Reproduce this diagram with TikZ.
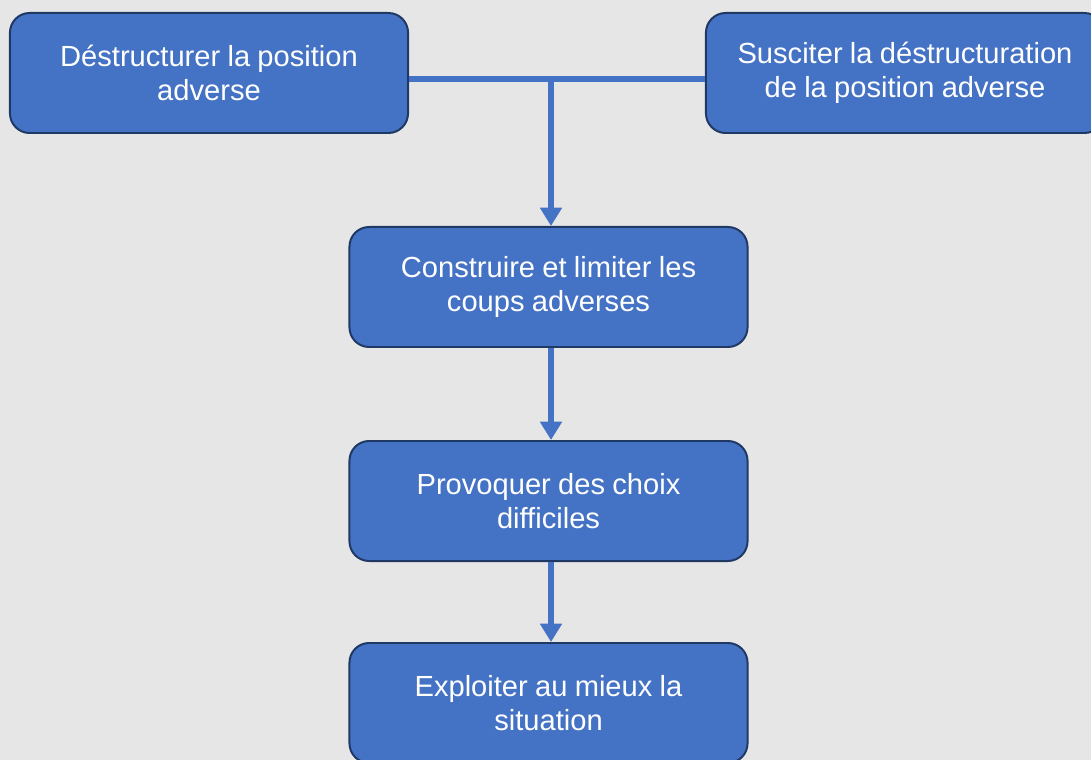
\documentclass[tikz,border=0pt]{standalone}
\usepackage{fontspec}
\setmainfont[WordSpace=0.9]{Liberation Sans}
\usetikzlibrary{arrows.meta}
\definecolor{fond}{HTML}{E7E6E6}
\definecolor{bleu}{HTML}{4472C4}
\definecolor{bord}{HTML}{1F3864}
\newcommand{\etiq}[1]{\raisebox{1.5pt}{\parbox{9.5cm}{\centering #1}}}
\begin{document}
\begin{tikzpicture}[x=0.025cm,y=-0.025cm,>={Triangle[width=15pt,length=13pt]},
	etape/.style={draw=bord,line width=1.4pt,fill=bleu,rounded corners=14pt,minimum width=9.95cm,minimum height=3cm,text=white,font=\fontsize{20.7}{24.2}\selectfont,inner sep=0pt},
	lien/.style={draw=bleu,line width=4pt}]
		\clip (0,0) rectangle (1091,760);
		\fill[fond] (0,0) rectangle (1091,760);
		\node[etape] (b1) at (209,73) {\etiq{Déstructurer la position\\adverse}};
		\node[etape] (b2) at (905,73) {\etiq{Susciter la déstructuration\\de la position adverse}};
		\node[etape] (b3) at (548.5,287) {\etiq{Construire et limiter les\\coups adverses}};
		\node[etape] (b4) at (548.5,501) {\etiq{Provoquer des choix\\difficiles}};
		\node[etape] (b5) at (548.5,703) {\etiq{Exploiter au mieux la\\situation}};
		\coordinate (j) at (551,79);
		\draw[lien] (b1.east |- j) -- (b2.west |- j);
		\draw[lien,->] (j) -- (b3.north -| j);
		\draw[lien,->] (b3.south -| j) -- (b4.north -| j);
		\draw[lien,->] (b4.south -| j) -- (b5.north -| j);
\end{tikzpicture}
\end{document}
